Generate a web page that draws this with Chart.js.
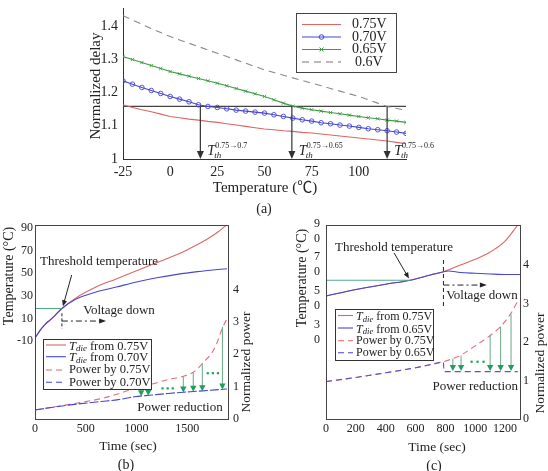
<!DOCTYPE html>
<html>
<head>
<meta charset="utf-8">
<script src="https://cdn.jsdelivr.net/npm/chart.js@4"></script>
<style>
  html, body { margin: 0; padding: 0; background: #fff; }
  #wrap { position: relative; width: 548px; height: 471px; overflow: hidden; }
  canvas { position: absolute; left: 0; top: 0; }
</style>
</head>
<body>
<div id="wrap">
  <canvas id="chartA" width="548" height="471"></canvas>
  <canvas id="chartB" width="548" height="471"></canvas>
  <canvas id="chartC" width="548" height="471"></canvas>
</div>
<script>
// ---- (a) normalized delay vs temperature
const tempA = [-25, -20, -15, -10, -5, 0, 5, 10, 15, 20, 25, 30, 35, 40, 45, 50, 55, 60, 65, 70, 75, 80, 85, 90, 95, 100, 105, 110, 115, 120, 125]
const delay075 = [1.163, 1.155, 1.148, 1.142, 1.135, 1.128, 1.124, 1.120, 1.117, 1.113, 1.110, 1.106, 1.102, 1.098, 1.094, 1.090, 1.088, 1.085, 1.083, 1.080, 1.078, 1.075, 1.072, 1.069, 1.066, 1.063, 1.060, 1.057, 1.054, 1.050, 1.046]
const delay070 = [1.235, 1.225, 1.215, 1.206, 1.197, 1.188, 1.180, 1.172, 1.163, 1.158, 1.155, 1.151, 1.147, 1.144, 1.141, 1.138, 1.133, 1.128, 1.123, 1.118, 1.114, 1.109, 1.106, 1.102, 1.099, 1.095, 1.091, 1.088, 1.085, 1.081, 1.077]
const delay065 = [1.308, 1.299, 1.290, 1.281, 1.272, 1.263, 1.256, 1.249, 1.242, 1.235, 1.228, 1.220, 1.212, 1.204, 1.196, 1.188, 1.178, 1.168, 1.159, 1.153, 1.148, 1.144, 1.140, 1.136, 1.132, 1.128, 1.124, 1.121, 1.117, 1.114, 1.110]
const delay060 = [1.431, 1.418, 1.405, 1.392, 1.380, 1.368, 1.358, 1.348, 1.338, 1.328, 1.318, 1.308, 1.298, 1.288, 1.278, 1.268, 1.260, 1.252, 1.244, 1.236, 1.228, 1.220, 1.212, 1.204, 1.196, 1.188, 1.178, 1.168, 1.158, 1.152, 1.147]
const thresholdDelay = 1.158
const thresholdTemps = [16, 64.5, 115]
const thresholdLabels = ['0.75\u21920.7', '0.75\u21920.65', '0.75\u21920.6']
const tempTicksA = [-25, 0, 25, 50, 75, 100]
const delayTicks = [1, 1.1, 1.2, 1.3, 1.4]
const legendA = ['0.75V', '0.70V', '0.65V', '0.6V']

// ---- (b) 0.75V -> 0.70V
const timeB = [0, 50, 100, 150, 200, 265, 400, 600, 800, 1000, 1200, 1400, 1600, 1700, 1800, 1890]
const tdie075B = [-7.5, -0.5, 4.8, 8.8, 13, 18.8, 28, 37.8, 45, 52.3, 59.4, 66.5, 75.5, 80.5, 86.5, 93]
const tdie070B = [-7.5, -0.5, 4.8, 8.8, 13, 18.8, 27, 33.4, 37.8, 42.3, 46, 49, 51.4, 52.4, 53.3, 54]
const powerTimeB = [0, 330, 650, 820, 980, 1150, 1310, 1470, 1560, 1650, 1770, 1850, 1890]
const power075B = [0.28, 0.45, 0.63, 0.78, 0.95, 1.08, 1.22, 1.33, 1.45, 1.72, 2.2, 2.85, 3.1]
const power070B = [0.28, 0.43, 0.54, 0.60, 0.69, 0.74, 0.79, 0.83, 0.85, 0.87, 0.90, 0.92, 0.93]
const thresholdB = { time: 265, temp: 18.8 }
const arrowTimeB = [1045, 1115, 1460, 1558, 1647, 1845]
const arrowFromB = [0.97, 1.04, 1.32, 1.45, 1.71, 2.85]
const arrowToB = [0.70, 0.72, 0.82, 0.84, 0.86, 0.91]
const dotsB = [{ t: [1255, 1305, 1355], p: 0.95 }, { t: [1700, 1750, 1800], p: 1.42 }]
const timeTicksB = [0, 500, 1000, 1500]
const tempTicksB = [-10, 10, 30, 50, 70, 90]
const powerTicks = [0, 1, 2, 3, 4]

// ---- (c) 0.75V -> 0.65V
const time075C = [0, 200, 400, 564, 700, 787, 900, 1000, 1100, 1200, 1285]
const tdie075C = [51.4, 55.3, 58.4, 60.8, 63.9, 65.8, 69.8, 73.2, 77.5, 84, 93.6]
const time065C = [0, 200, 400, 564, 700, 787, 820, 900, 1000, 1100, 1200, 1300]
const tdie065C = [51.4, 55.3, 58.4, 60.8, 63.9, 65.8, 66.3, 65.4, 64.9, 64.5, 64.2, 64.2]
const powerTime075C = [0, 200, 400, 600, 787, 850, 900, 1000, 1100, 1170, 1240, 1290]
const power075C = [0.97, 1.08, 1.2, 1.33, 1.49, 1.57, 1.65, 1.9, 2.17, 2.4, 2.75, 3.1]
const powerTime065C = [0, 200, 400, 600, 787, 790, 1285]
const power065C = [0.97, 1.08, 1.2, 1.33, 1.49, 1.23, 1.23]
const thresholdC = { time: 564, temp: 60.8 }
const switchTimeC = 787
const arrowTimeC = [850, 905, 1100, 1170, 1240]
const arrowFromC = [1.57, 1.65, 2.17, 2.4, 2.72]
const arrowToC = [1.25, 1.25, 1.25, 1.25, 1.25]
const dotsC = [{ t: [975, 1015, 1055], p: 1.49 }]
const timeTicksC = [0, 200, 400, 600, 800, 1000, 1200]
const tempTicksC = [30, 50, 70, 90]

// ---- styles
const SERIF = '"Liberation Serif", "Times New Roman", "Noto Sans CJK SC", serif'
const RED = '#e06464'
const BLUE = '#4646d2'
const GREEN = '#3f9a45'
const TEAL = '#52a98a'
const ARROW_GREEN = '#1f9e5c'
const INK = '#222'

const pts = (xs, ys) => xs.map((x, i) => ({ x, y: ys[i] }))
const font = (size, style) => (style || '') + ' ' + size + 'px ' + SERIF

function text(ctx, s, x, y, o = {}) {
  ctx.save()
  ctx.font = font(o.size || 13, o.style)
  ctx.fillStyle = o.color || INK
  ctx.textAlign = o.align || 'center'
  ctx.textBaseline = 'middle'
  ctx.translate(x, y)
  if (o.rot) ctx.rotate(o.rot)
  ctx.fillText(s, 0, 0)
  ctx.restore()
}

function seg(ctx, x1, y1, x2, y2, o = {}) {
  ctx.save()
  ctx.strokeStyle = o.color || INK
  ctx.lineWidth = o.lw || 1
  ctx.setLineDash(o.dash || [])
  ctx.beginPath(); ctx.moveTo(x1, y1); ctx.lineTo(x2, y2); ctx.stroke()
  ctx.restore()
}

function arrow(ctx, x1, y1, x2, y2, o = {}) {
  const len = o.head || 6, wid = o.wid || 3
  const a = Math.atan2(y2 - y1, x2 - x1), c = Math.cos(a), s = Math.sin(a)
  seg(ctx, x1, y1, x2 - c * len * 0.7, y2 - s * len * 0.7, o)
  ctx.save()
  ctx.fillStyle = o.headColor || o.color || INK
  ctx.beginPath()
  ctx.moveTo(x2, y2)
  ctx.lineTo(x2 - c * len - s * wid, y2 - s * len + c * wid)
  ctx.lineTo(x2 - c * len + s * wid, y2 - s * len - c * wid)
  ctx.closePath(); ctx.fill()
  ctx.restore()
}

// T_th^{...}
function tth(ctx, x, y, sup) {
  ctx.save()
  ctx.fillStyle = INK; ctx.textAlign = 'left'; ctx.textBaseline = 'alphabetic'
  ctx.font = font(14, 'italic'); ctx.fillText('T', x, y)
  const w = ctx.measureText('T').width
  ctx.font = font(9, 'italic'); ctx.fillText('th', x + w - 1, y + 3)
  ctx.font = font(8); ctx.fillText(sup, x + w, y - 7)
  ctx.restore()
}

// T_die + rest
function tdie(ctx, x, y, rest, size) {
  ctx.save()
  ctx.fillStyle = INK; ctx.textAlign = 'left'; ctx.textBaseline = 'alphabetic'
  ctx.font = font(size, 'italic'); ctx.fillText('T', x, y)
  let w = ctx.measureText('T').width
  ctx.font = font(size * 0.72, 'italic'); ctx.fillText('die', x + w, y + 1.5)
  w += ctx.measureText('die').width
  ctx.font = font(size); ctx.fillText(rest, x + w + 3, y)
  ctx.restore()
}

function legendBox(ctx, box, rows, size) {
  ctx.save()
  ctx.fillStyle = '#fff'
  ctx.fillRect(box.x, box.y, box.w, box.h)
  ctx.strokeStyle = '#333'; ctx.lineWidth = 1
  ctx.strokeRect(box.x + 0.5, box.y + 0.5, box.w, box.h)
  ctx.restore()
  rows.forEach(r => {
    seg(ctx, box.x + 3, r.y, box.x + 3 + box.sample, r.y, { color: r.color, dash: r.dash, lw: 1.1 })
    if (r.tdie) tdie(ctx, box.x + box.sample + 6, r.y + 4.5, r.text, size)
    else text(ctx, r.text, box.x + box.sample + 6, r.y, { size, align: 'left' })
  })
}

function dots(ctx, X, Y, groups) {
  ctx.save()
  ctx.fillStyle = ARROW_GREEN
  groups.forEach(g => g.t.forEach(t => {
    ctx.fillRect(X(t) - 1, Y(g.p) - 1, 2.2, 2.2)
  }))
  ctx.restore()
}

// fixed-size axes so that each plot area lands where it sits in the figure
const fixW = w => s => { s.width = w; s.paddingTop = 0; s.paddingBottom = 0 }
const fixH = h => s => { s.height = h; s.paddingLeft = 0; s.paddingRight = 0 }
const setTicks = arr => s => { s.ticks = arr.map(v => ({ value: v })) }
const tickFont = size => ({ family: SERIF, size })
const noGrid = { display: false, drawTicks: false }

const base = {
  responsive: false,
  animation: false,
  events: [],
  plugins: { legend: { display: false }, tooltip: { enabled: false } },
  elements: { point: { radius: 0 }, line: { borderWidth: 1.1 } }
}

// ================= (a)
const annotA = {
  id: 'annotA',
  afterDraw(chart) {
    const ctx = chart.ctx
    const X = v => chart.scales.x.getPixelForValue(v)
    const Y = v => chart.scales.y.getPixelForValue(v)
    thresholdTemps.forEach((t, i) => {
      arrow(ctx, X(t), Y(thresholdDelay), X(t), Y(1), { head: 8, wid: 3.5, lw: 1.2, color: '#333' })
      tth(ctx, X(t) + 7, Y(1) - 4, thresholdLabels[i])
    })
    // legend
    const box = { x: 296, y: 13, w: 100, h: 59 }
    ctx.save()
    ctx.strokeStyle = '#444'; ctx.lineWidth = 1
    ctx.strokeRect(box.x + 0.5, box.y + 0.5, box.w, box.h)
    ctx.restore()
    const styles = [
      { color: RED }, { color: BLUE, mark: 'o' }, { color: GREEN, mark: 'x' }, { color: '#777', dash: [7, 5] }
    ]
    legendA.forEach((lab, i) => {
      const y = 24.5 + i * 12.5
      seg(ctx, 302, y, 341, y, { color: styles[i].color, dash: styles[i].dash, lw: 1.1 })
      if (styles[i].mark === 'o') {
        ctx.save(); ctx.strokeStyle = BLUE; ctx.beginPath(); ctx.arc(321.5, y, 2.3, 0, Math.PI * 2); ctx.stroke(); ctx.restore()
      }
      if (styles[i].mark === 'x') {
        seg(ctx, 319.5, y - 2, 323.5, y + 2, { color: GREEN }); seg(ctx, 319.5, y + 2, 323.5, y - 2, { color: GREEN })
      }
      text(ctx, lab, i === 3 ? 355 : 352, y, { size: 14, align: 'left' })
    })
    text(ctx, 'Normalized delay', 96, 86, { size: 15, rot: -Math.PI / 2 })
    text(ctx, 'Temperature (\u2103)', 265, 188, { size: 15 })
    text(ctx, '(a)', 264, 209, { size: 14 })
  }
}

new Chart(document.getElementById('chartA'), {
  type: 'line',
  data: {
    datasets: [
      { data: pts(tempA, delay070), borderColor: BLUE, pointRadius: 2.3, pointStyle: 'circle',
        pointBorderColor: BLUE, pointBackgroundColor: 'rgba(255,255,255,0)', pointBorderWidth: 0.9 },
      { data: pts(tempA, delay065), borderColor: GREEN, pointRadius: 2.3, pointStyle: 'crossRot',
        pointBorderColor: GREEN, pointBorderWidth: 0.9 },
      { data: pts(tempA, delay075), borderColor: RED },
      { data: pts(tempA, delay060), borderColor: '#8a8a8a', borderDash: [7, 5] },
      { data: pts([-25, 125], [thresholdDelay, thresholdDelay]), borderColor: '#444', borderWidth: 1.2 }
    ]
  },
  options: {
    ...base,
    layout: { padding: { left: 83, right: 142, top: 8, bottom: 272 } },
    scales: {
      x: {
        type: 'linear', min: -25, max: 125,
        afterFit: fixH(40), afterBuildTicks: setTicks(tempTicksA),
        grid: noGrid, border: { color: '#333' },
        ticks: { font: tickFont(14), color: INK, padding: 5, maxRotation: 0, callback: v => String(v) }
      },
      y: {
        min: 1, max: 1.454,
        afterFit: fixW(40), afterBuildTicks: setTicks(delayTicks),
        grid: noGrid, border: { color: '#333' },
        ticks: { font: tickFont(14), color: INK, padding: 5, callback: v => v === 1 ? '1' : v.toFixed(1) }
      }
    }
  },
  plugins: [annotA]
})

// ================= (b)
const annotB = {
  id: 'annotB',
  afterDraw(chart) {
    const ctx = chart.ctx, a = chart.chartArea
    const X = v => chart.scales.x.getPixelForValue(v)
    const T = v => chart.scales.yT.getPixelForValue(v)
    const P = v => chart.scales.yP.getPixelForValue(v)
    ctx.save(); ctx.strokeStyle = '#444'; ctx.lineWidth = 1
    ctx.strokeRect(a.left + 0.5, a.top + 0.5, a.right - a.left, a.bottom - a.top); ctx.restore()

    arrowTimeB.forEach((t, i) => {
      arrow(ctx, X(t), P(arrowFromB[i]), X(t), P(arrowToB[i]), { color: '#6aa888', headColor: ARROW_GREEN, head: 6, wid: 3.2 })
    })
    dots(ctx, X, P, dotsB)

    // threshold annotation
    text(ctx, 'Threshold temperature', X(630), T(59.9), { size: 13 })
    arrow(ctx, X(361), T(48.4), X(thresholdB.time + 10), T(thresholdB.temp + 2), { head: 6, wid: 2.5 })
    seg(ctx, X(thresholdB.time), T(14.5), X(thresholdB.time), T(1), { dash: [3, 2] })
    arrow(ctx, X(thresholdB.time), T(7.7), X(700), T(7.7), { dash: [6, 3, 2, 3], head: 7, wid: 2.5 })
    text(ctx, 'Voltage down', X(475), T(16.8), { size: 13, align: 'left' })
    text(ctx, 'Power reduction', X(1427), P(0.36), { size: 13 })

    legendBox(ctx, { x: 43, y: 339, w: 108, h: 50, sample: 20 }, [
      { y: 345, color: RED, tdie: true, text: 'from 0.75V' },
      { y: 356.7, color: BLUE, tdie: true, text: 'from 0.70V' },
      { y: 370, color: RED, dash: [6, 4], text: 'Power by 0.75V' },
      { y: 382.3, color: BLUE, dash: [6, 4], text: 'Power by 0.70V' }
    ], 12.5)

    text(ctx, 'Temperature (\u00b0C)', 9, 276, { size: 14, rot: -Math.PI / 2 })
    text(ctx, 'Normalized power', 246, 362, { size: 13.5, rot: -Math.PI / 2 })
    text(ctx, 'Time (sec)', 128, 446, { size: 13.5 })
    text(ctx, '(b)', 126, 465, { size: 14 })
  }
}

new Chart(document.getElementById('chartB'), {
  type: 'line',
  data: {
    datasets: [
      { data: pts([0, thresholdB.time], [thresholdB.temp, thresholdB.temp]), yAxisID: 'yT', borderColor: TEAL },
      { data: pts(timeB, tdie070B), yAxisID: 'yT', borderColor: BLUE, cubicInterpolationMode: 'monotone' },
      { data: pts(timeB, tdie075B), yAxisID: 'yT', borderColor: RED, cubicInterpolationMode: 'monotone' },
      { data: pts(powerTimeB, power070B), yAxisID: 'yP', borderColor: BLUE, borderDash: [9, 2], cubicInterpolationMode: 'monotone' },
      { data: pts(powerTimeB, power075B), yAxisID: 'yP', borderColor: '#e07080', borderDash: [6, 4], cubicInterpolationMode: 'monotone' }
    ]
  },
  options: {
    ...base,
    layout: { padding: { left: 0, right: 290, top: 225, bottom: 12 } },
    scales: {
      x: {
        type: 'linear', min: 0, max: 1900,
        afterFit: fixH(40), afterBuildTicks: setTicks(timeTicksB),
        grid: noGrid, border: { display: false },
        ticks: { font: tickFont(12), color: INK, padding: 3, maxRotation: 0, callback: v => String(v) }
      },
      yT: {
        position: 'left', min: -79, max: 92.7,
        afterFit: fixW(35), afterBuildTicks: setTicks(tempTicksB),
        grid: noGrid, border: { display: false },
        ticks: { font: tickFont(12), color: INK, padding: 2 }
      },
      yP: {
        position: 'right', min: 0, max: 6,
        afterFit: fixW(30), afterBuildTicks: setTicks(powerTicks),
        grid: noGrid, border: { display: false },
        ticks: { font: tickFont(12), color: INK, padding: 5 }
      }
    }
  },
  plugins: [annotB]
})

// ================= (c)
const annotC = {
  id: 'annotC',
  afterDraw(chart) {
    const ctx = chart.ctx, a = chart.chartArea
    const X = v => chart.scales.x.getPixelForValue(v)
    const T = v => chart.scales.yT.getPixelForValue(v)
    const P = v => chart.scales.yP.getPixelForValue(v)
    ctx.save(); ctx.strokeStyle = '#444'; ctx.lineWidth = 1
    ctx.strokeRect(a.left + 0.5, a.top + 0.5, a.right - a.left, a.bottom - a.top); ctx.restore()

    arrowTimeC.forEach((t, i) => {
      arrow(ctx, X(t), P(arrowFromC[i]), X(t), P(arrowToC[i]), { color: '#6aa888', headColor: ARROW_GREEN, head: 6, wid: 3.2 })
    })
    dots(ctx, X, P, dotsC)

    text(ctx, 'Threshold temperature', X(456), T(79.9), { size: 13 })
    arrow(ctx, X(456), T(77), X(thresholdC.time - 8), T(thresholdC.temp + 1), { head: 6, wid: 2.5 })
    seg(ctx, X(switchTimeC), T(72.8), X(switchTimeC), T(44.8), { dash: [4, 3] })
    arrow(ctx, X(switchTimeC), T(57.9), X(1078), T(57.9), { dash: [6, 3, 2, 3], head: 7, wid: 2.5 })
    text(ctx, 'Voltage down', X(805), T(51.4), { size: 13, align: 'left' })
    text(ctx, 'Power reduction', X(1000), P(0.84), { size: 13 })

    legendBox(ctx, { x: 335, y: 309, w: 98, h: 51, sample: 15 }, [
      { y: 315.5, color: RED, tdie: true, text: 'from 0.75V' },
      { y: 328, color: BLUE, tdie: true, text: 'from 0.65V' },
      { y: 340.7, color: RED, dash: [6, 4], text: 'Power by 0.75V' },
      { y: 352.7, color: BLUE, dash: [6, 4], text: 'Power by 0.65V' }
    ], 12)

    text(ctx, 'Temperature (\u00b0C)', 302, 278, { size: 14, rot: -Math.PI / 2 })
    text(ctx, 'Normalized power', 540, 363, { size: 13.5, rot: -Math.PI / 2 })
    text(ctx, 'Time (sec)', 437, 447, { size: 13.5 })
    text(ctx, '(c)', 434, 466, { size: 14 })
  }
}

new Chart(document.getElementById('chartC'), {
  type: 'line',
  data: {
    datasets: [
      { data: pts([0, thresholdC.time], [thresholdC.temp, thresholdC.temp]), yAxisID: 'yT', borderColor: TEAL },
      { data: pts(time065C, tdie065C), yAxisID: 'yT', borderColor: BLUE, cubicInterpolationMode: 'monotone' },
      { data: pts(time075C, tdie075C), yAxisID: 'yT', borderColor: RED, cubicInterpolationMode: 'monotone' },
      { data: pts(powerTime065C, power065C), yAxisID: 'yP', borderColor: '#6050c8', borderDash: [6, 4] },
      { data: pts(powerTime075C, power075C), yAxisID: 'yP', borderColor: '#e07080', borderDash: [6, 4], cubicInterpolationMode: 'monotone' }
    ]
  },
  options: {
    ...base,
    layout: { padding: { left: 296, right: 0, top: 225, bottom: 12 } },
    scales: {
      x: {
        type: 'linear', min: 0, max: 1300,
        afterFit: fixH(40), afterBuildTicks: setTicks(timeTicksC),
        grid: noGrid, border: { display: false },
        ticks: { font: tickFont(12), color: INK, padding: 3, maxRotation: 0, autoSkip: false, callback: v => String(v) }
      },
      yT: {
        position: 'left', min: -21.7, max: 93.6,
        afterFit: fixW(30), afterBuildTicks: setTicks(tempTicksC),
        grid: noGrid, border: { display: false },
        ticks: { font: { family: SERIF, size: 12, lineHeight: 1.25 }, color: INK, padding: 6,
          callback: v => String(v).split('') }
      },
      yP: {
        position: 'right', min: 0, max: 5.04,
        afterFit: fixW(28), afterBuildTicks: setTicks(powerTicks),
        grid: noGrid, border: { display: false },
        ticks: { font: tickFont(12), color: INK, padding: 3 }
      }
    }
  },
  plugins: [annotC]
})
</script>
</body>
</html>
